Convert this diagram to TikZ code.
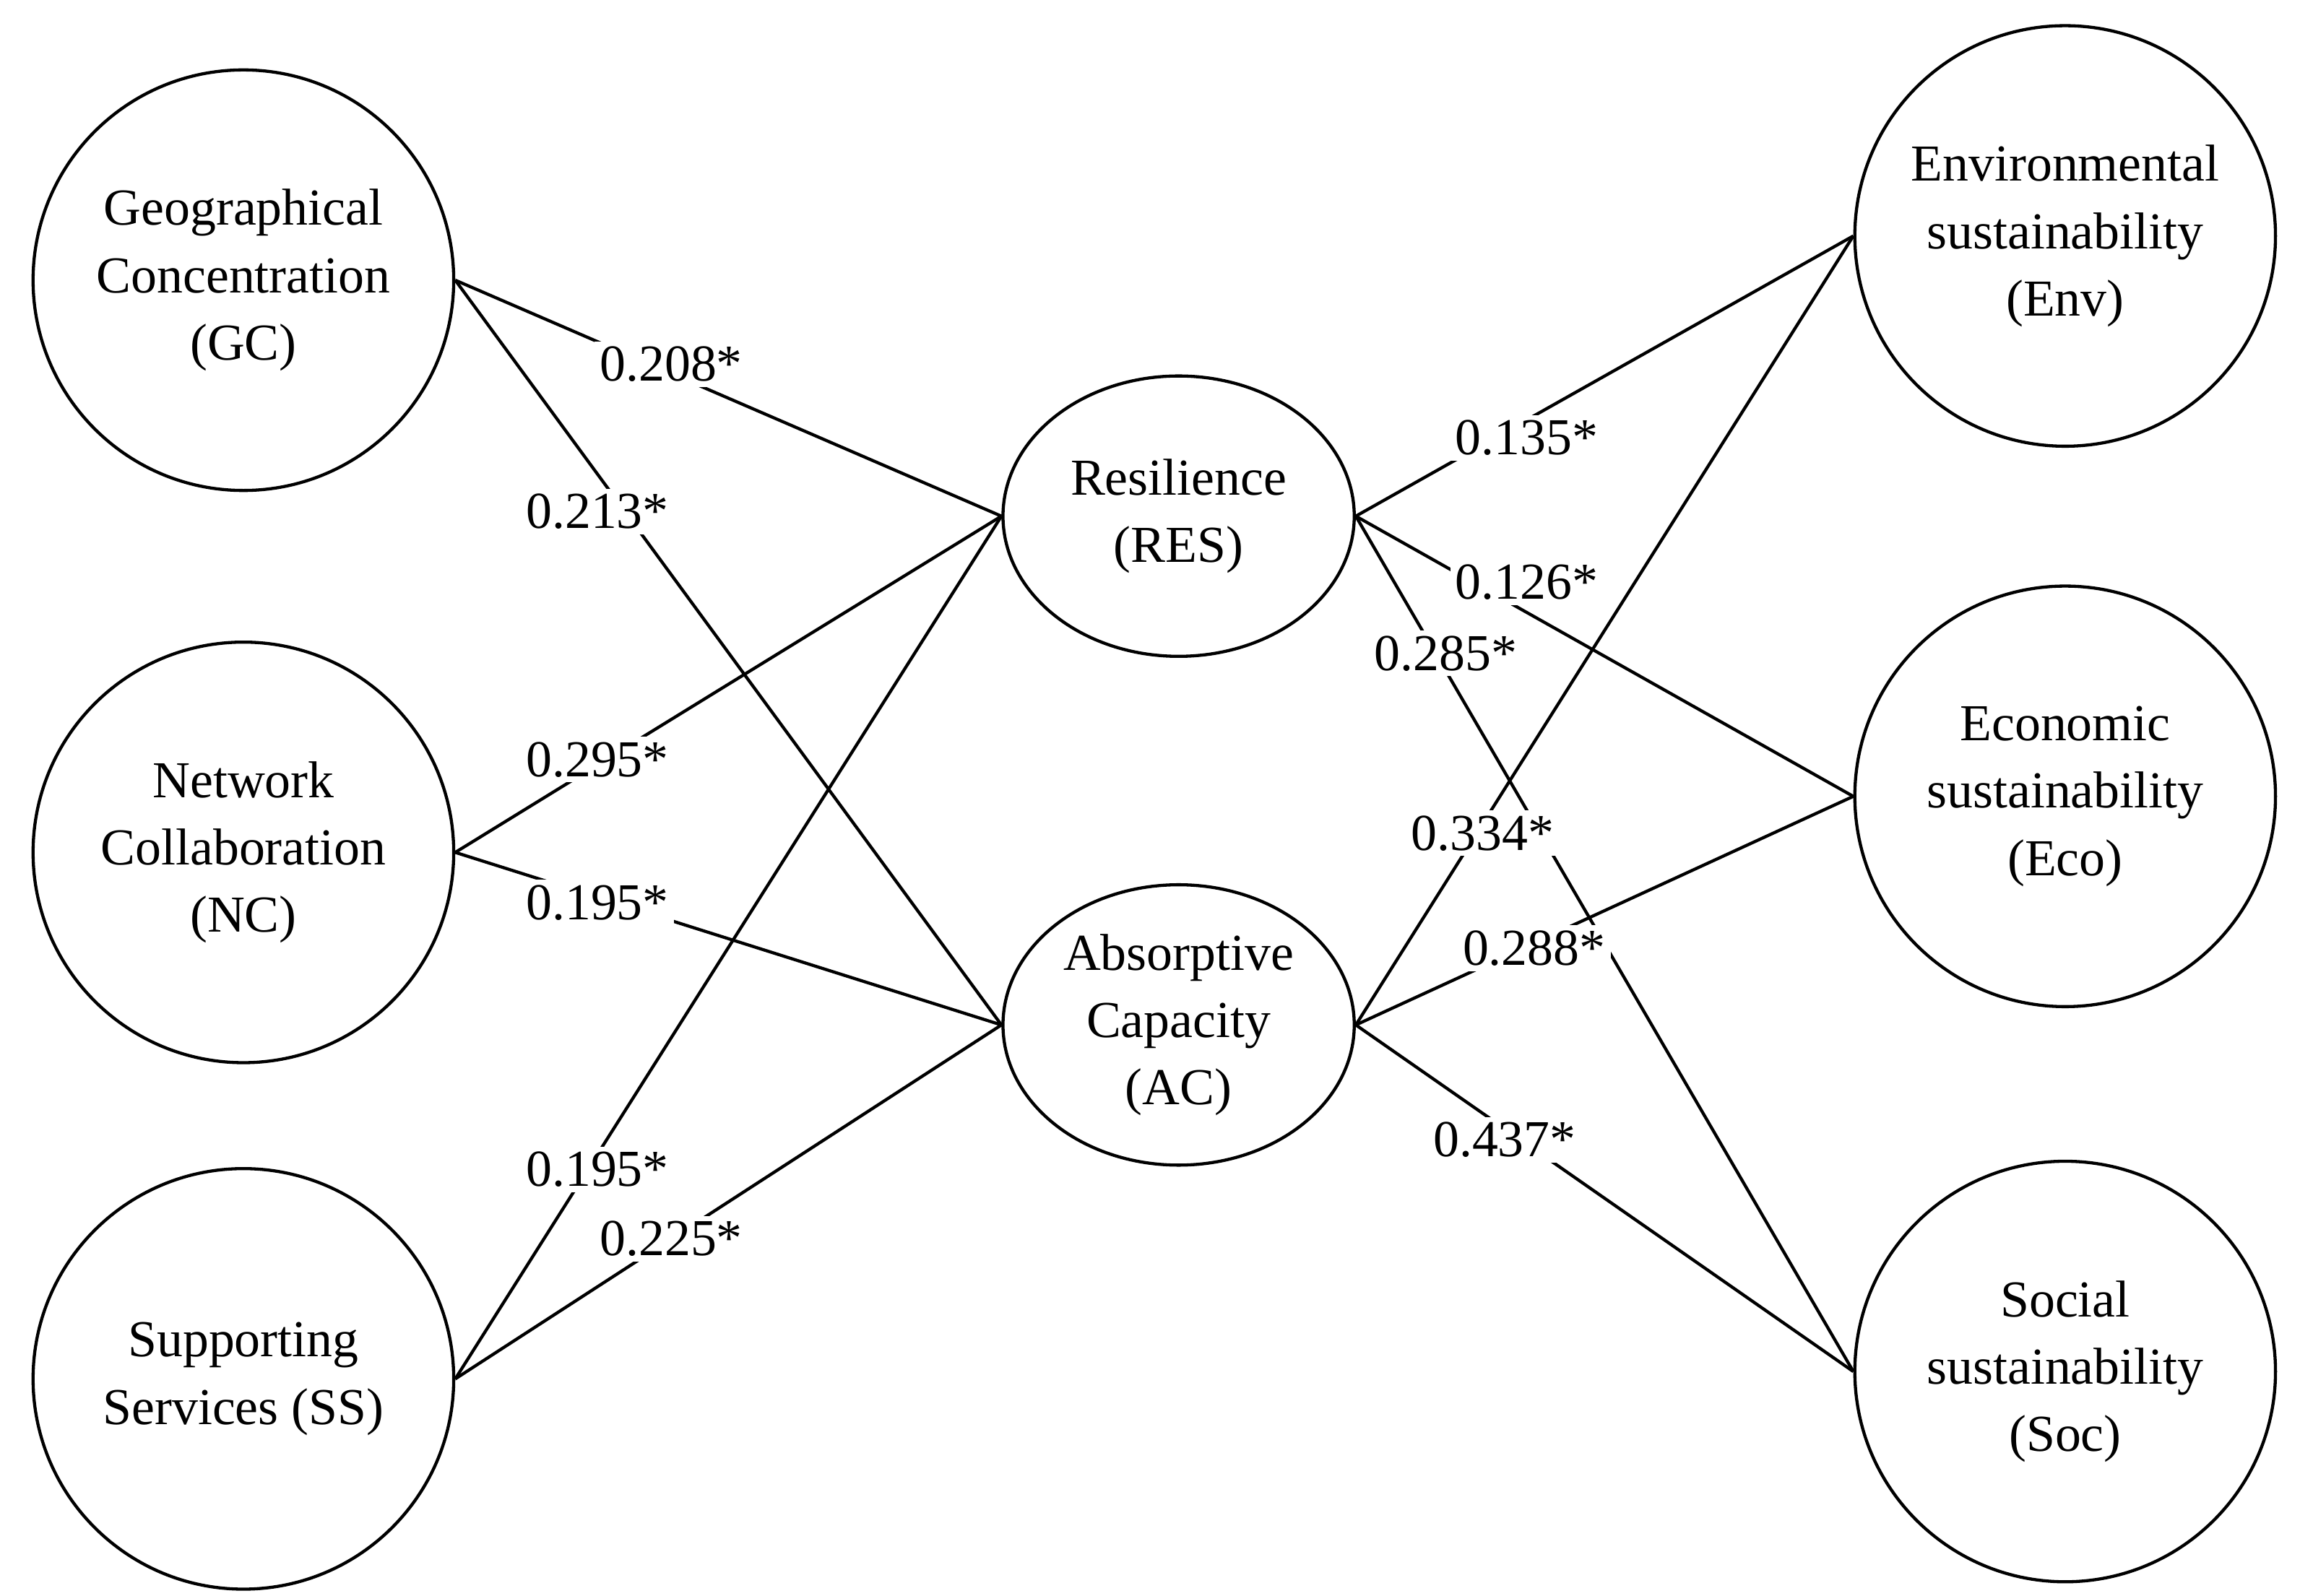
\documentclass[tikz,border=0pt]{standalone}
\usepackage{fontspec}
\setmainfont{Liberation Serif}
\usetikzlibrary{shapes.geometric}
\begin{document}
\begin{tikzpicture}[x=0.01cm,y=-0.01cm,
  big/.style={circle,draw,line width=0.6pt,minimum size=2.85cm,inner sep=0,align=center,font=\fontsize{10}{13}\selectfont},
  mid/.style={ellipse,draw,line width=0.6pt,minimum width=2.38cm,minimum height=1.9cm,inner sep=0,align=center,font=\fontsize{10}{13}\selectfont},
  ln/.style={line width=0.6pt},
  lab/.style={fill=white,inner sep=1pt,font=\fontsize{10}{12}\selectfont}]
\useasboundingbox (0,0) rectangle (1568,1082);
\node[big] (gc) at (165,190) {Geographical\\Concentration\\(GC)};
\node[big] (nc) at (165,578) {Network\\Collaboration\\(NC)};
\node[big] (ss) at (165,935) {Supporting\\Services (SS)};
\node[mid] (res) at (799,350) {Resilience\\(RES)};
\node[mid] (ac) at (799,695) {Absorptive\\Capacity\\(AC)};
\node[big] (env) at (1400,160) {Environmental\\sustainability\\(Env)};
\node[big] (eco) at (1400,540) {Economic\\sustainability\\(Eco)};
\node[big] (soc) at (1400,930) {Social\\sustainability\\(Soc)};
\draw[ln] (gc.east) -- (res.west);
\draw[ln] (gc.east) -- (ac.west);
\draw[ln] (nc.east) -- (res.west);
\draw[ln] (nc.east) -- (ac.west);
\draw[ln] (ss.east) -- (res.west);
\draw[ln] (ss.east) -- (ac.west);
\draw[ln] (res.east) -- (env.west);
\draw[ln] (res.east) -- (eco.west);
\draw[ln] (res.east) -- (soc.west);
\draw[ln] (ac.east) -- (env.west);
\draw[ln] (ac.east) -- (eco.west);
\draw[ln] (ac.east) -- (soc.west);
\node[lab] (l1) at (455,247) {0.208*};
\node[lab] (l2) at (405,347) {0.213*};
\node[lab] (l3) at (405,515) {0.295*};
\node[lab] (l4) at (405,612) {0.195*};
\node[lab] (l5) at (405,793) {0.195*};
\node[lab] (l6) at (455,840) {0.225*};
\node[lab] (r1) at (1035,297) {0.135*};
\node[lab] (r2) at (1035,395) {0.126*};
\node[lab] (r3) at (980,443) {0.285*};
\node[lab] (r4) at (1005,565) {0.334*};
\node[lab] (r5) at (1040,643) {0.288*};
\node[lab] (r6) at (1020,773) {0.437*};
\end{tikzpicture}
\end{document}
